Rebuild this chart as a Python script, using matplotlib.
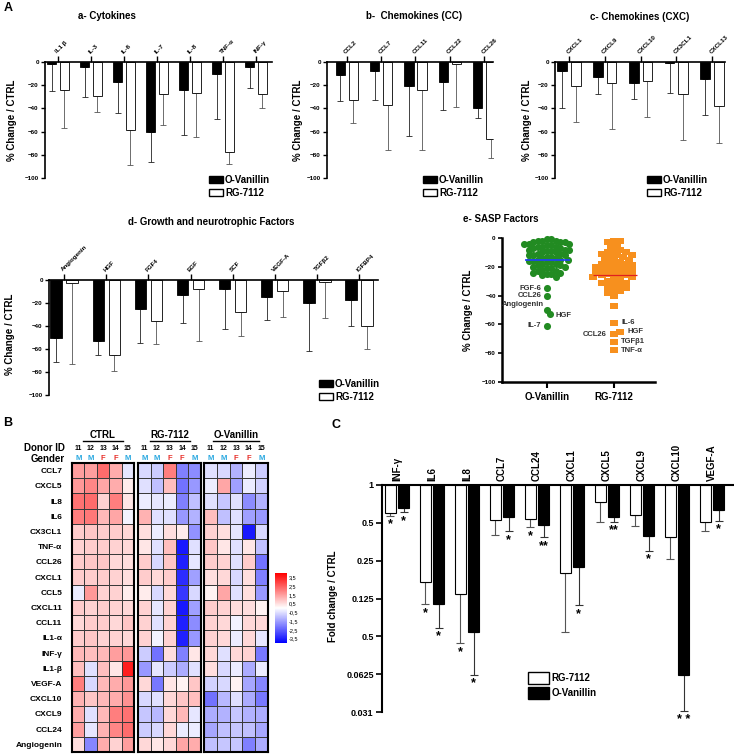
import matplotlib.pyplot as plt
import numpy as np
from matplotlib.patches import Patch
from matplotlib.lines import Line2D
from matplotlib.path import Path
from matplotlib.ticker import NullLocator

plt.rcParams['font.family'] = ['Liberation Sans', 'DejaVu Sans']
plt.rcParams['font.weight'] = 'bold'
plt.rcParams['axes.linewidth'] = 1.2

#%% data

# a- cytokines (O-Vanillin = black, RG-7112 = white), value and lower end of error bar
cyto = ['IL1 β', 'IL-3', 'IL-6', 'IL-7', 'IL-8', 'TNF-α', 'INF-γ']
cyto_ov = [-2, -4, -17, -60, -24, -10, -4]
cyto_ov_lo = [-25, -30, -44, -86, -63, -49, -22]
cyto_rg = [-24, -29, -59, -28, -27, -78, -28]
cyto_rg_lo = [-57, -43, -89, -54, -65, -88, -40]

# b- chemokines CC
cc = ['CCL2', 'CCL7', 'CCL11', 'CCL22', 'CCL26']
cc_ov = [-11, -8, -21, -17, -40]
cc_ov_lo = [-34, -33, -64, -41, -48]
cc_rg = [-33, -37, -24, -2, -66]
cc_rg_lo = [-53, -76, -76, -39, -83]

# c- chemokines CXC
cxc = ['CXCL1', 'CXCL9', 'CXCL10', 'CX3CL1', 'CXCL13']
cxc_ov = [-8, -13, -18, -1, -15]
cxc_ov_lo = [-40, -28, -32, -27, -46]
cxc_rg = [-21, -18, -16, -28, -38]
cxc_rg_lo = [-52, -58, -47, -67, -70]

# d- growth factors
gf = ['Angiogenin', 'HGF', 'FGF4', 'EGF', 'SCF', 'VEGF-A', 'TGFβ2', 'IGFBP4']
gf_ov = [-50, -53, -25, -13, -8, -15, -20, -17]
gf_ov_lo = [-71, -65, -55, -37, -43, -35, -62, -40]
gf_rg = [-3, -65, -36, -8, -28, -10, -2, -40]
gf_rg_lo = [-73, -79, -56, -53, -49, -32, -33, -60]

# e- SASP factors
sasp_ov = [-1, -1, -2, -2, -2, -3, -3, -3, -4, -4, -4, -5, -5, -6, -6, -6, -7, -7,
           -8, -8, -8, -9, -9, -10, -10, -11, -11, -12, -12, -12, -13, -13, -14,
           -14, -15, -15, -15, -16, -16, -17, -17, -18, -18, -19, -19, -20, -20,
           -21, -21, -22, -23, -23, -24, -24, -25, -25, -26, -27]
sasp_ov_out = [-35, -40, -50, -53, -61]
sasp_ov_out_lab = ['FGF-6', 'CCL26', 'Angiogenin', 'HGF', 'IL-7']
sasp_rg = [-2, -2, -3, -5, -6, -8, -9, -10, -10, -11, -12, -12, -13, -13, -14,
           -15, -16, -17, -17, -18, -18, -19, -20, -20, -21, -21, -22, -22, -23,
           -24, -24, -25, -25, -26, -26, -27, -27, -28, -29, -30, -31, -31, -32,
           -33, -34, -35, -36, -37, -38, -40, -47]
sasp_rg_out = [-59, -67, -65, -72, -78]
sasp_rg_out_lab = ['IL-6', 'CCL26', 'HGF', 'TGFβ1', 'TNF-α']

# B- heatmap
hm_rows = ['CCL7', 'CXCL5', 'IL8', 'IL6', 'CX3CL1', 'TNF-α', 'CCL26', 'CXCL1', 'CCL5',
           'CXCL11', 'CCL11', 'IL1-α', 'INF-γ', 'IL1-β', 'VEGF-A', 'CXCL10', 'CXCL9',
           'CCL24', 'Angiogenin']
donor_id = [11, 12, 13, 14, 15]
gender = ['M', 'M', 'F', 'F', 'M']
hm_ctrl = [[1.5, 1.5, 2.3, 1.3, -0.4],
           [1.6, 1.9, 1.4, 1.3, 0.3],
           [2.2, 2.3, 0.7, 2.0, 0.4],
           [2.0, 2.1, 1.1, 1.4, -0.2],
           [0.8, 0.9, 0.8, 0.8, 0.6],
           [0.7, 0.8, 0.8, 0.7, 0.6],
           [0.8, 0.9, 0.9, 0.6, 0.5],
           [0.8, 0.8, 0.8, 0.7, 0.5],
           [-0.3, 1.6, 0.7, 0.7, 0.3],
           [0.8, 0.7, 0.8, 0.7, 0.6],
           [0.6, 0.8, 0.8, 0.6, 0.9],
           [0.8, 0.9, 0.7, 0.7, 0.6],
           [1.1, 1.0, 1.1, 1.5, 1.6],
           [1.0, -0.5, 1.0, 0.4, 3.5],
           [2.0, -0.6, 1.1, 1.3, 1.6],
           [1.2, 0.9, 1.1, 1.3, 1.7],
           [1.3, -0.5, 1.1, 2.0, 2.2],
           [1.5, -0.4, 1.2, 1.9, 2.3],
           [0.5, -1.9, 1.3, 0.7, 1.5]]
hm_rg = [[-0.6, -0.8, 2.0, -2.0, -1.8],
         [-0.5, -1.0, 1.0, -2.2, -1.6],
         [-0.3, -0.4, -0.3, -2.0, -1.0],
         [1.2, -0.5, -0.5, -1.6, -1.2],
         [0.5, -0.3, 0.5, 0.3, -1.7],
         [0.4, -0.5, 1.0, -3.6, -0.5],
         [0.8, -0.6, 0.9, -3.5, -0.4],
         [0.8, 0.6, 0.8, -3.3, -1.5],
         [0.3, -0.6, 0.6, -3.1, -0.6],
         [0.7, -0.4, 0.7, -3.6, -1.5],
         [0.7, -0.5, 0.7, -3.5, -1.8],
         [0.7, -0.2, 0.7, -3.5, -1.6],
         [-0.8, -2.2, 0.5, -2.0, 0.4],
         [-1.6, -0.4, -0.8, -1.3, -0.5],
         [0.6, -2.1, 0.4, 0.2, 0.9],
         [-0.6, -0.5, 0.6, 0.9, 1.0],
         [-0.9, -1.1, 0.6, 1.1, -0.4],
         [-0.8, -0.6, 0.6, -0.3, -0.3],
         [0.6, 0.4, 0.6, 1.4, 1.3]]
hm_ov = [[-0.5, -0.6, -1.2, -0.3, -0.8],
         [-0.3, 1.4, -1.5, -0.3, -0.7],
         [-0.5, -0.9, -0.5, -1.8, -1.2],
         [1.0, -1.0, -0.5, -1.5, -1.6],
         [0.7, 0.5, -0.4, -3.6, -0.6],
         [0.9, 0.4, -0.5, 0.4, -1.0],
         [0.8, 0.7, -0.5, 0.8, -2.2],
         [0.5, 0.6, -0.6, 0.5, -2.0],
         [0.2, 1.4, -0.5, 0.5, -1.6],
         [0.8, 0.7, 0.5, 0.5, 0.2],
         [0.7, 0.6, -0.2, 0.6, 0.6],
         [0.7, 0.6, -0.3, 0.6, -0.4],
         [0.6, -0.5, 0.6, 0.7, -2.1],
         [0.5, -0.6, -0.3, -1.3, -0.3],
         [-0.7, -0.6, 0.2, -1.4, -1.9],
         [-2.2, -1.1, -0.5, -1.3, -2.1],
         [-1.3, -1.2, -0.9, -1.2, -1.3],
         [-1.4, -1.0, -0.9, -1.0, -1.4],
         [-1.0, -0.9, -0.9, -2.0, -1.3]]
cb_ticks = [3.5, 2.5, 1.5, 0.5, -0.5, -1.5, -2.5, -3.5]
cb_labels = ['3,5', '2,5', '1,5', '0,5', '-0,5', '-1,5', '-2,5', '-3,5']

# C- fold change
c_cats = ['INF-γ', 'IL6', 'IL8', 'CCL7', 'CCL24', 'CXCL1', 'CXCL5', 'CXCL9', 'CXCL10', 'VEGF-A']
c_rg = [0.60, 0.169, 0.136, 0.525, 0.535, 0.199, 0.73, 0.58, 0.385, 0.507]
c_rg_lo = [0.57, 0.113, 0.055, 0.40, 0.46, 0.068, 0.51, 0.47, 0.26, 0.43]
c_ov = [0.66, 0.113, 0.068, 0.556, 0.48, 0.222, 0.556, 0.39, 0.031, 0.63]
c_ov_lo = [0.61, 0.073, 0.031, 0.43, 0.385, 0.111, 0.51, 0.30, 0.0159, 0.52]
c_rg_star = ['*', '*', '*', '', '*', '', '', '', '', '']
c_ov_star = ['*', '*', '*', '*', '**', '*', '**', '*', '* *', '*']
c_ticks = [1, 0.5, 0.25, 0.125, 2**-4, 2**-5, 2**-6]
c_ticklabels = ['1', '0.5', '0.25', '0.125', '0.5', '0.0625', '0.031']

#%% figure

W, H = 734, 754
fig = plt.figure(figsize=(W/100, H/100), dpi=100)


def box(l, t, r, b):
    return [l/W, 1 - b/H, (r-l)/W, (b-t)/H]


def ftext(x, y, s, **kw):
    return fig.text(x/W, 1 - y/H, s, **kw)


def legend(ax, x, y, order, hl=1.4, hh=0.65, sp=0.3):
    hd = {'O-Vanillin': Patch(facecolor='black', edgecolor='black', label='O-Vanillin'),
          'RG-7112': Patch(facecolor='white', edgecolor='black', label='RG-7112')}
    ax.legend(handles=[hd[k] for k in order], loc='upper left',
              bbox_to_anchor=(x/W, 1 - y/H), bbox_transform=fig.transFigure,
              frameon=False, fontsize=7, handlelength=hl, handleheight=hh,
              handletextpad=0.25, labelspacing=sp, borderpad=0, borderaxespad=0)


def bar_panel(rect, cats, ov, ov_lo, rg, rg_lo, xlim, leg):
    ax = fig.add_axes(rect)
    x = np.arange(len(cats))
    ov = np.array(ov)
    rg = np.array(rg)
    z = np.zeros(len(cats))
    ax.bar(x - 0.19, ov, 0.27, color='black', edgecolor='black', lw=0.6, zorder=2)
    ax.bar(x + 0.19, rg, 0.27, color='white', edgecolor='black', lw=0.6, zorder=2)
    ax.errorbar(x - 0.19, ov, yerr=[ov - np.array(ov_lo), z], fmt='none',
                ecolor='#222222', elinewidth=0.6, capsize=2, capthick=0.6, zorder=1)
    ax.errorbar(x + 0.19, rg, yerr=[rg - np.array(rg_lo), z], fmt='none',
                ecolor='#555555', elinewidth=0.6, capsize=2, capthick=0.6, zorder=1)
    ax.set_xlim(*xlim)
    ax.set_ylim(-100, 0)
    ax.spines[['right', 'bottom']].set_visible(False)
    ax.xaxis.tick_top()
    ax.set_xticks(x, cats, rotation=45, ha='left', va='bottom',
                  rotation_mode='anchor', fontsize=4.5)
    ax.tick_params(axis='x', length=4, width=1, pad=1.5)
    ax.set_yticks(np.arange(-100, 1, 20))
    ax.tick_params(axis='y', labelsize=4.5, length=3, width=1, pad=1.5)
    legend(ax, leg[0], leg[1], ['O-Vanillin', 'RG-7112'])
    return ax


# panel A
ftext(4, 8, 'A', fontsize=9, va='center')
bar_panel(box(45, 62, 272, 178), cyto, cyto_ov, cyto_ov_lo, cyto_rg, cyto_rg_lo,
          (-0.39, 6.48), (209, 175))
ftext(107, 16, 'a- Cytokines', fontsize=7, ha='center', va='center')
ftext(12, 120, '% Change / CTRL', fontsize=7, rotation=90, ha='center', va='center')

bar_panel(box(327, 62, 493, 178), cc, cc_ov, cc_ov_lo, cc_rg, cc_rg_lo,
          (-0.58, 4.26), (423, 175))
ftext(414, 16, 'b-  Chemokines (CC)', fontsize=7, ha='center', va='center')
ftext(298, 120, '% Change / CTRL', fontsize=7, rotation=90, ha='center', va='center')

bar_panel(box(555, 62, 725, 178), cxc, cxc_ov, cxc_ov_lo, cxc_rg, cxc_rg_lo,
          (-0.39, 4.36), (647, 175))
ftext(640, 17, 'c- Chemokines (CXC)', fontsize=7, ha='center', va='center')
ftext(527, 120, '% Change / CTRL', fontsize=7, rotation=90, ha='center', va='center')

bar_panel(box(49, 280, 378, 395), gf, gf_ov, gf_ov_lo, gf_rg, gf_rg_lo,
          (-0.36, 7.45), (319, 379))
ftext(211, 222, 'd- Growth and neurotrophic Factors', fontsize=7, ha='center', va='center')
ftext(10, 334, '% Change / CTRL', fontsize=7, rotation=90, ha='center', va='center')


# panel e: scatter, points spread sideways in the order of the list
def swarm(vals, wx, wy, xscale, yscale):
    vals = np.asarray(vals, float)
    offs = np.zeros(len(vals))
    placed = []
    for i in range(len(vals)):
        y = vals[i] * yscale
        k = 0
        while True:
            c = ((k + 1) // 2) * (1 if k % 2 else -1) * 1.5
            if all(((c - px)/wx)**2 + ((y - py)/wy)**2 >= 1 for px, py in placed):
                break
            k += 1
        placed.append((c, y))
        offs[i] = c / xscale
    return offs


axe = fig.add_axes(box(502, 238, 655, 382))
xs_px, ys_px = 67.0, 1.44
g_all = np.array(sasp_ov + sasp_ov_out, float)
o_all = np.array(sasp_rg + sasp_rg_out, float)
g_off = swarm(g_all, 4.3, 5.6, xs_px, ys_px)
o_off = swarm(o_all, 6.0, 4.8, xs_px, ys_px)
rect = Path([(-1.5, -1), (1.5, -1), (1.5, 1), (-1.5, 1), (-1.5, -1)])
axe.scatter(g_off, g_all, s=26, marker='o', color='#228b22', lw=0, zorder=2, clip_on=False)
axe.scatter(1 + o_off, o_all, s=34, marker=rect, color='#f7901e', lw=0, zorder=2, clip_on=False)
axe.hlines(g_all.mean(), -0.33, 0.34, color='#1f3cff', lw=1.2, zorder=3)
axe.hlines(o_all.mean(), 0.69, 1.34, color='#e02020', lw=0.9, zorder=3)

n_in = len(sasp_ov)
g_side = [(-4, 0, 'right'), (-4, 0, 'right'), (-2, 4, 'right'), (4, -1, 'left'), (-4, 0, 'right')]
for k, lab in enumerate(sasp_ov_out_lab):
    dx, dy, ha = g_side[k]
    axe.annotate(lab, (g_off[n_in + k], g_all[n_in + k]), xytext=(dx, dy),
                 textcoords='offset points', ha=ha, va='center', fontsize=5.5,
                 color='#333333')
n_in = len(sasp_rg)
o_side = [(5, 0, 'left'), (-5, 0, 'right'), (5, 0, 'left'), (5, 0, 'left'), (5, 0, 'left')]
for k, lab in enumerate(sasp_rg_out_lab):
    dx, dy, ha = o_side[k]
    axe.annotate(lab, (1 + o_off[n_in + k], o_all[n_in + k]), xytext=(dx, dy),
                 textcoords='offset points', ha=ha, va='center', fontsize=5.5,
                 color='#333333')

axe.set_xlim(-0.67, 1.61)
axe.set_ylim(-100, 0)
axe.spines[['right', 'top']].set_visible(False)
axe.spines['left'].set_linewidth(1.8)
axe.spines['bottom'].set_linewidth(1.8)
axe.set_yticks(np.arange(-100, 1, 20))
axe.set_xticks([0, 1], ['O-Vanillin', 'RG-7112'], fontsize=7)
axe.tick_params(axis='y', labelsize=4.5, length=3, width=1.2, pad=1.5)
axe.tick_params(axis='x', length=4, width=1.5, pad=3)
ftext(463, 219, 'e- SASP Factors', fontsize=7, ha='left', va='center')
ftext(468, 310, '% Change / CTRL', fontsize=7, rotation=90, ha='center', va='center')

# panel B: heatmap
ftext(3, 423, 'B', fontsize=9, va='center')
ftext(65, 448, 'Donor ID', fontsize=7, ha='right', va='center')
ftext(65, 458.5, 'Gender', fontsize=7, ha='right', va='center')
blocks = [(72, 134, hm_ctrl, 'CTRL', 20), (138, 201, hm_rg, 'RG-7112', 20),
          (204, 268, hm_ov, 'O-Vanillin', 23)]
for bi, (l, r, data, name, hw) in enumerate(blocks):
    ax = fig.add_axes(box(l, 463, r, 752))
    ax.pcolormesh(np.array(data), cmap='bwr', vmin=-4, vmax=4,
                  edgecolors='#3a3a3a', linewidth=0.5)
    ax.set_xlim(0, 5)
    ax.set_ylim(len(hm_rows), 0)
    ax.set_xticks([])
    if bi == 0:
        ax.set_yticks(np.arange(len(hm_rows)) + 0.5, hm_rows, fontsize=6)
        ax.tick_params(axis='y', length=0, pad=7)
    else:
        ax.set_yticks([])
    for s in ax.spines.values():
        s.set_linewidth(1.5)
    cx = (l + r) / 2
    ftext(cx, 435, name, ha='center', va='center', fontsize=7)
    fig.add_artist(Line2D([(cx - hw)/W, (cx + hw)/W], [1 - 441/H, 1 - 441/H],
                          color='black', lw=1))
    for j in range(5):
        xx = l + (j + 0.5) * (r - l) / 5
        ftext(xx, 448, str(donor_id[j]), ha='center', va='center', fontsize=5)
        ftext(xx, 459, gender[j], ha='center', va='center', fontsize=5.5,
              color='#29a8e0' if gender[j] == 'M' else '#e8302a')

cax = fig.add_axes(box(275, 573, 287, 643))
sm = plt.cm.ScalarMappable(cmap='bwr', norm=plt.Normalize(-4, 4))
cb = fig.colorbar(sm, cax=cax, ticks=cb_ticks)
cb.ax.set_yticklabels(cb_labels, fontsize=4, fontweight='normal')
cb.ax.tick_params(length=0, pad=1.5)
cb.outline.set_visible(False)

# panel C
ftext(331, 425, 'C', fontsize=9, va='center')
axC = fig.add_axes(box(382, 485, 733, 712))
axC.set_yscale('log', base=2)
x = np.arange(len(c_cats))
rg = np.array(c_rg)
ov = np.array(c_ov)
z = np.zeros(len(c_cats))
axC.bar(x - 0.19, rg - 1, 0.31, bottom=1, color='white', edgecolor='black', lw=0.8, zorder=2)
axC.bar(x + 0.19, ov - 1, 0.31, bottom=1, color='black', edgecolor='black', lw=0.8, zorder=2)
axC.errorbar(x - 0.19, rg, yerr=[rg - np.array(c_rg_lo), z], fmt='none',
             ecolor='#555555', elinewidth=0.8, capsize=3, capthick=0.8, zorder=1)
axC.errorbar(x + 0.19, ov, yerr=[ov - np.array(c_ov_lo), z], fmt='none',
             ecolor='#333333', elinewidth=0.8, capsize=3, capthick=0.8, zorder=1)
for i in range(len(c_cats)):
    if c_rg_star[i]:
        axC.annotate(c_rg_star[i], (x[i] - 0.19, c_rg_lo[i]), xytext=(0, -2),
                     textcoords='offset points', ha='center', va='top', fontsize=9)
    if c_ov_star[i]:
        axC.annotate(c_ov_star[i], (x[i] + 0.19, c_ov_lo[i]), xytext=(0, -2),
                     textcoords='offset points', ha='center', va='top', fontsize=9)
axC.set_ylim(2**-6, 1)
axC.set_xlim(-0.43, 9.6)
axC.set_yticks(c_ticks, c_ticklabels)
axC.yaxis.set_minor_locator(NullLocator())
axC.tick_params(axis='y', labelsize=6.5, length=4, width=1.2, pad=2)
axC.spines[['right', 'bottom']].set_visible(False)
axC.spines['left'].set_linewidth(1.5)
axC.spines['top'].set_linewidth(1.5)
axC.xaxis.tick_top()
axC.set_xticks(x, c_cats, rotation=90, fontsize=7)
axC.tick_params(axis='x', length=0, pad=3)
legend(axC, 528, 672, ['RG-7112', 'O-Vanillin'], hl=2.2, hh=1.5, sp=0.35)
ftext(333, 596, 'Fold change / CTRL', fontsize=7, rotation=90, ha='center', va='center')

fig.savefig('out.png', dpi=100)
